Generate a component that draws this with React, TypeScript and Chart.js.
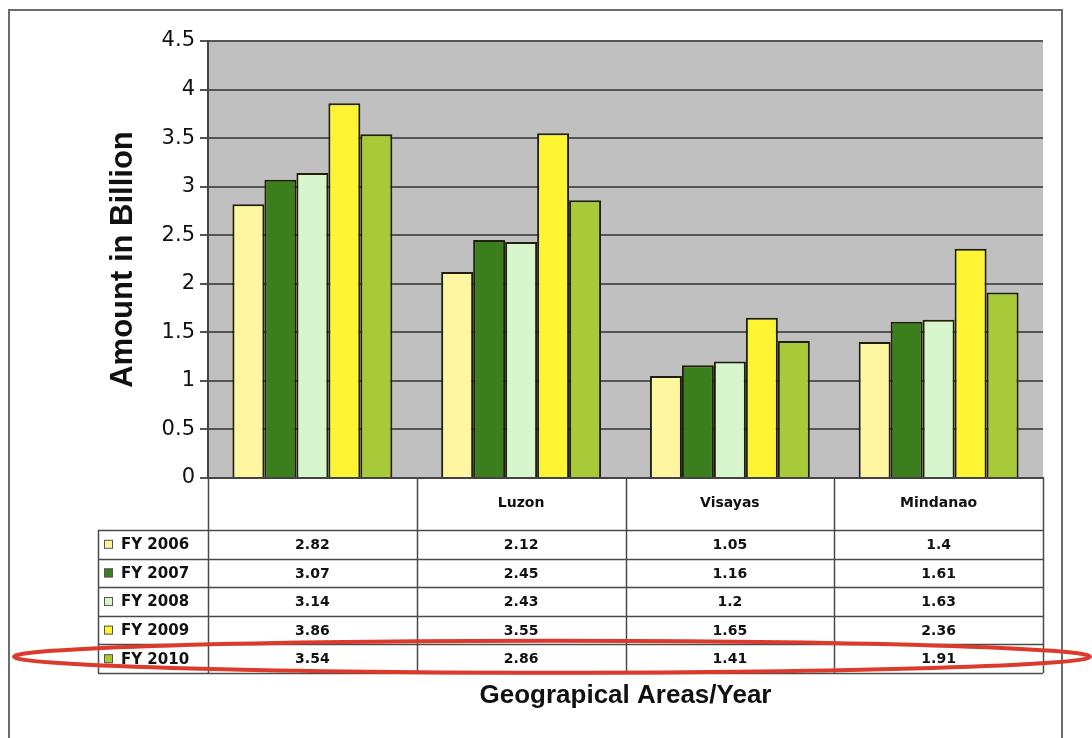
import React, { useEffect, useRef } from "react";
import { Chart, registerables } from "chart.js";

Chart.register(...registerables);

// Regions on the category axis (the first column has no heading)
const categories = ["", "Luzon", "Visayas", "Mindanao"];

// Fiscal-year series, amounts in billions
const seriesLabels = ["FY 2006", "FY 2007", "FY 2008", "FY 2009", "FY 2010"];
const fy2006 = [2.82, 2.12, 1.05, 1.4];
const fy2007 = [3.07, 2.45, 1.16, 1.61];
const fy2008 = [3.14, 2.43, 1.2, 1.63];
const fy2009 = [3.86, 3.55, 1.65, 2.36];
const fy2010 = [3.54, 2.86, 1.41, 1.91];
const seriesValues = [fy2006, fy2007, fy2008, fy2009, fy2010];
const seriesColors = ["#fff6a2", "#3b7e1c", "#d8f6cd", "#fff434", "#a8c938"];

// Row of the data table that is circled
const highlightedSeries = 4;

const W = 1092;
const H = 738;

const FONT_SANS = "'Liberation Sans', Arial, sans-serif";
const FONT_TABLE = "'DejaVu Sans', Verdana, sans-serif";

// Geometry of the data table under the plot
const HEADER_H = 52;
const ROW_H = 28.6;
const LABEL_LEFT = 98;

const tablePlugin = {
  id: "dataTable",
  beforeDraw(chart: any) {
    const { ctx, chartArea } = chart;
    ctx.save();
    ctx.fillStyle = "#ffffff";
    ctx.fillRect(0, 0, W, H);
    // outer frame
    ctx.strokeStyle = "#6c6c6c";
    ctx.lineWidth = 2;
    ctx.strokeRect(9, 10, 1053, 740);
    // plot background
    ctx.fillStyle = "#c0c0c0";
    ctx.fillRect(chartArea.left, chartArea.top, chartArea.width, chartArea.height);
    ctx.restore();
  },
  afterDraw(chart: any) {
    const { ctx, chartArea } = chart;
    const xs = chart.scales.x;
    const { left, right, bottom } = chartArea;
    const step = (right - left) / categories.length;
    const headerBottom = bottom + HEADER_H;
    const tableBottom = headerBottom + ROW_H * seriesValues.length;

    ctx.save();
    ctx.strokeStyle = "#4a4a4a";
    ctx.lineWidth = 1.5;

    // horizontal rules
    for (let r = 0; r <= seriesValues.length; r++) {
      const y = Math.round(headerBottom + r * ROW_H) + 0.5;
      ctx.beginPath();
      ctx.moveTo(LABEL_LEFT, y);
      ctx.lineTo(right, y);
      ctx.stroke();
    }
    // label column left edge
    ctx.beginPath();
    ctx.moveTo(LABEL_LEFT + 0.5, headerBottom);
    ctx.lineTo(LABEL_LEFT + 0.5, tableBottom);
    ctx.stroke();
    // column separators
    for (let i = 0; i <= categories.length; i++) {
      const x = Math.round(xs.getPixelForValue(i) - step / 2) + 0.5;
      ctx.beginPath();
      ctx.moveTo(x, bottom);
      ctx.lineTo(x, tableBottom);
      ctx.stroke();
    }

    // row labels with colour keys, and the values
    ctx.textBaseline = "middle";
    seriesValues.forEach((vals, r) => {
      const cy = headerBottom + r * ROW_H + ROW_H / 2;
      ctx.fillStyle = seriesColors[r];
      ctx.fillRect(104, cy - 4.5, 9, 9);
      ctx.strokeStyle = "#555";
      ctx.lineWidth = 1;
      ctx.strokeRect(104.5, cy - 4, 8, 8);
      ctx.fillStyle = "#111";
      ctx.font = `bold 15px ${FONT_TABLE}`;
      ctx.textAlign = "left";
      ctx.fillText(seriesLabels[r], 121, cy + 1);
      ctx.font = `bold 14px ${FONT_TABLE}`;
      ctx.textAlign = "center";
      vals.forEach((v, i) => {
        ctx.fillText(String(v), xs.getPixelForValue(i), cy + 1);
      });
    });

    // red ring round the highlighted row
    const hy = headerBottom + highlightedSeries * ROW_H + ROW_H / 2;
    ctx.beginPath();
    ctx.ellipse(552, hy - 2, 538, 16, 0, 0, Math.PI * 2);
    ctx.strokeStyle = "#dc3a2c";
    ctx.lineWidth = 4;
    ctx.stroke();
    ctx.restore();
  },
};

export default function App() {
  const canvasRef = useRef<HTMLCanvasElement | null>(null);

  useEffect(() => {
    const canvas = canvasRef.current;
    if (!canvas) return;
    const chart = new Chart(canvas, {
      type: "bar",
      data: {
        labels: categories,
        datasets: seriesValues.map((vals, i) => ({
          label: seriesLabels[i],
          data: vals,
          backgroundColor: seriesColors[i],
          borderColor: "#1f1f0a",
          borderWidth: 2,
          categoryPercentage: 0.766,
          barPercentage: 1.0,
        })),
      },
      options: {
        animation: false,
        responsive: false,
        devicePixelRatio: 1,
        layout: { padding: { top: 41, right: 49, left: 0, bottom: 0 } },
        plugins: {
          legend: { display: false },
          tooltip: { enabled: false },
        },
        scales: {
          x: {
            grid: { display: false, drawTicks: false },
            border: { display: true, color: "#444", width: 2 },
            ticks: {
              color: "#111",
              padding: 17,
              font: { family: FONT_TABLE, size: 14, weight: "bold" },
            },
            title: {
              display: true,
              text: "Geograpical Areas/Year",
              color: "#111",
              font: { family: FONT_SANS, size: 26, weight: "bold" },
              padding: { top: 0, bottom: 27 },
            },
            afterFit: (scale: any) => {
              scale.height = 260;
            },
          },
          y: {
            min: 0,
            max: 4.5,
            ticks: {
              stepSize: 0.5,
              color: "#111",
              padding: 5,
              font: { family: FONT_TABLE, size: 21 },
              callback: (value: any) => String(Number(value)),
            },
            grid: {
              color: "#555",
              lineWidth: 2,
              tickLength: 8,
              tickColor: "#555",
            },
            border: { display: true, color: "#444", width: 2 },
            title: {
              display: true,
              text: "Amount in Billion",
              color: "#111",
              font: { family: FONT_SANS, size: 31, weight: "bold" },
              padding: { top: 105, bottom: 0 },
            },
            afterFit: (scale: any) => {
              scale.width = 208;
            },
          },
        },
      },
      plugins: [tablePlugin],
    });
    return () => chart.destroy();
  }, []);

  return (
    <div style={{ position: "fixed", left: 0, top: 0, width: W, height: H, background: "#fff" }}>
      <canvas ref={canvasRef} width={W} height={H} style={{ display: "block" }} />
    </div>
  );
}
